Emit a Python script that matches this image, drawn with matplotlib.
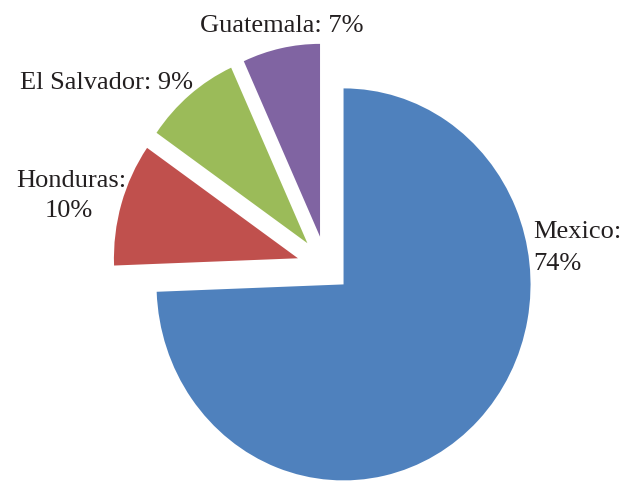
import matplotlib
matplotlib.use("Agg")
import matplotlib.pyplot as plt

countries = ["Mexico", "Honduras", "El Salvador", "Guatemala"]
shares = [74.4, 10.3, 8.5, 6.8]          # wedge sizes
label_pct = [74, 10, 9, 7]               # rounded values shown in the labels
colors = ["#4F81BD", "#C0504D", "#9BBB59", "#8064A2"]
explode = [0.128, 0.158, 0.158, 0.158]

W, H = 626, 483
fig = plt.figure(figsize=(W / 100, H / 100), dpi=100)
ax = fig.add_axes([0, 0, 1, 1])
wedges, _ = ax.pie(shares, colors=colors, explode=explode, startangle=90,
                   counterclock=False, radius=1.0, wedgeprops=dict(linewidth=0))
for w in wedges[1:]:
    w.set_radius(0.984)
ax.set_aspect("auto")
cx, cy, sx, sy = 326.3, 267, 187, 196
ax.set_xlim(-cx / sx, (W - cx) / sx)
ax.set_ylim((cy - H) / sy, cy / sy)
ax.axis("off")

font = dict(family="Liberation Serif", fontsize=19, color="#231F20")
# (text, x, baseline y, ha) in pixels
lines = [
    (f"{countries[0]}:", 533, 237.5, "left"),
    (f"{label_pct[0]}%", 533, 269.5, "left"),
    (f"{countries[1]}:", 71, 186.7, "center"),
    (f"{label_pct[1]}%", 69, 216.7, "center"),
    (f"{countries[2]}: {label_pct[2]}%", 106, 89.3, "center"),
    (f"{countries[3]}: {label_pct[3]}%", 281.5, 31.7, "center"),
]
for txt, px, py, ha in lines:
    fig.text(px / W, 1 - py / H, txt, ha=ha, va="baseline", **font)

fig.savefig("out.png", dpi=100)
